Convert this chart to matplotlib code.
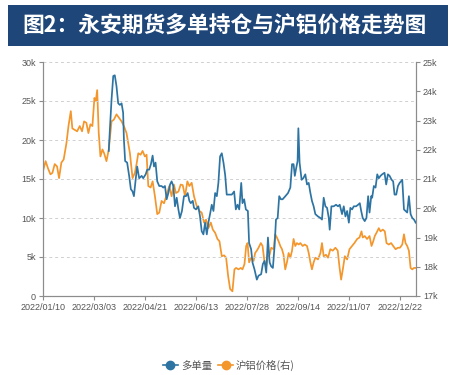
import matplotlib
matplotlib.use("Agg")
import matplotlib.pyplot as plt
from matplotlib.patches import Rectangle
from matplotlib.lines import Line2D

# trading-day position (0 = 2022/01/10) and values
blue_day = [42.6, 43.3, 44.4, 45.5, 46.5, 47.6, 48.7, 49.8, 50.9, 51.9, 52.4, 53.2, 54.5, 55.8,
            56.9, 58.0, 58.9, 60.0, 61.0, 62.3, 63.9, 64.9, 66.5, 67.5, 68.8, 69.9, 71.0, 71.9,
            72.9, 74.0, 75.3, 76.8, 77.9, 79.0, 80.1, 81.2, 82.3, 83.3, 84.4, 85.5, 86.6, 87.7,
            88.7, 90.0, 91.3, 92.6, 93.7, 94.8, 95.7, 97.0, 97.8, 99.1, 100.6, 101.7, 102.8,
            103.9, 105.0, 106.1, 107.1, 108.2, 109.3, 110.4, 111.5, 112.6, 113.6, 114.7, 115.8,
            116.9, 118.0, 119.0, 120.8, 122.3, 123.8, 124.9, 126.0, 127.1, 128.4, 129.2, 130.3,
            131.4, 132.7, 133.5, 134.8, 135.7, 137.0, 138.5, 139.6, 141.3, 142.4, 143.5, 144.6,
            145.7, 146.8, 147.8, 148.9, 150.0, 150.9, 152.0, 153.0, 154.1, 155.2, 157.0, 158.7,
            160.2, 161.3, 162.3, 163.1, 164.0, 164.9, 165.4, 166.2, 167.5, 168.6, 169.9, 171.0,
            172.1, 173.2, 174.2, 175.3, 176.4, 178.1, 179.7, 180.7, 181.8, 182.9, 184.0, 185.1,
            185.7, 186.8, 188.3, 189.8, 191.1, 192.2, 193.7, 194.8, 195.9, 197.0, 198.1, 199.1,
            200.2, 201.3, 202.8, 204.1, 205.2, 206.1, 207.1, 208.4, 209.5, 210.6, 211.5, 212.6,
            213.2, 214.3, 215.4, 216.5, 217.5, 218.6, 219.7, 221.2, 222.3, 223.4, 224.5, 225.8,
            226.8, 227.7, 228.8, 229.9, 231.0, 232.7, 233.8, 234.8, 235.9, 237.0, 238.1, 239.2,
            240.3, 241.4]
blue_val = [18600, 21300, 25200, 28200, 28300, 26900, 24700, 24500, 24700, 23500, 20100, 17300,
            17100, 15400, 13700, 13400, 12800, 14900, 16600, 15100, 15400, 15100, 15600, 16200,
            16200, 16900, 18000, 16600, 17100, 14700, 14100, 14100, 13900, 14100, 12400, 13200,
            14300, 14700, 14100, 11500, 12600, 11100, 10000, 10900, 12800, 12800, 13200, 12200,
            11900, 12200, 11300, 11100, 11500, 10200, 8300, 7900, 9400, 7900, 9400, 10500, 11700,
            10900, 13200, 12800, 14500, 17900, 18300, 17100, 15500, 13000, 13000, 13000, 13400,
            11100, 11700, 11100, 14500, 11900, 12400, 11100, 10900, 6800, 6000, 4300, 3400, 2100,
            2600, 2800, 4100, 4500, 3000, 7500, 4300, 3800, 3600, 6400, 9800, 10000, 12800, 12400,
            12400, 12800, 13200, 13900, 16900, 16900, 15400, 16400, 17300, 21500, 17100, 14900,
            15100, 15600, 14300, 14500, 13200, 12200, 11500, 10500, 10200, 10000, 9800, 12600,
            11500, 11300, 10000, 8500, 11500, 11500, 11700, 11500, 11700, 10500, 11500, 10200,
            10900, 9400, 11300, 11100, 11500, 11500, 11700, 11900, 10900, 10000, 9600, 10000,
            12800, 10700, 12800, 12600, 14100, 13900, 15600, 15100, 15400, 15600, 15800, 14300,
            15600, 15400, 14900, 14700, 13000, 13000, 14100, 14500, 14900, 11100, 10900, 10700,
            12800, 10500, 10000, 9800, 9400]

orange_day = [0.0, 1.7, 3.2, 4.8, 6.1, 7.6, 9.1, 10.4, 11.9, 13.4, 15.2, 16.5, 18.0, 19.0, 20.6,
              22.1, 23.8, 25.3, 26.6, 28.1, 29.4, 30.7, 32.0, 33.3, 34.2, 35.1, 36.1, 37.2, 38.5,
              39.6, 41.1, 42.6, 44.4, 45.9, 47.6, 49.4, 50.9, 52.4, 54.1, 56.3, 58.0, 59.5, 60.6,
              61.7, 63.2, 64.5, 66.0, 67.1, 68.2, 69.7, 71.0, 72.5, 74.0, 75.3, 76.8, 78.4, 80.1,
              81.8, 83.3, 84.8, 86.1, 87.7, 89.2, 90.5, 92.0, 93.5, 94.8, 96.3, 97.8, 99.6, 101.3,
              102.8, 104.3, 105.6, 107.1, 108.7, 110.0, 111.5, 113.0, 114.3, 115.8, 117.3, 118.6,
              119.9, 121.2, 122.7, 124.0, 125.1, 126.6, 128.1, 129.2, 130.5, 131.6, 132.5, 133.5,
              134.8, 136.4, 137.4, 138.5, 139.6, 141.1, 142.2, 143.5, 144.6, 145.7, 146.8, 147.8,
              149.4, 150.4, 151.5, 152.6, 153.7, 154.8, 155.8, 156.9, 158.0, 159.1, 160.2, 161.3,
              162.3, 163.4, 164.5, 165.6, 166.7, 168.2, 169.5, 171.0, 172.1, 173.2, 174.2, 175.3,
              176.4, 178.1, 179.7, 180.7, 181.8, 183.3, 184.6, 186.1, 187.7, 189.4, 190.9, 192.0,
              193.1, 194.2, 195.5, 197.0, 198.5, 200.2, 201.7, 203.5, 205.0, 206.3, 207.1, 208.4,
              209.9, 211.5, 212.8, 213.9, 214.9, 216.5, 217.5, 218.6, 220.1, 221.4, 222.5, 224.0,
              225.5, 226.8, 228.4, 229.9, 231.2, 232.7, 233.8, 234.8, 235.9, 237.0, 238.1, 239.2,
              240.3, 241.4]
orange_val = [21270, 21610, 21370, 21160, 21210, 21510, 21430, 21030, 21560, 21670, 22230, 22810,
              23320, 22730, 22680, 22630, 22810, 22630, 22970, 22920, 22570, 22870, 22810, 23770,
              23670, 24040, 22570, 21770, 22010, 21880, 21610, 22010, 22970, 23030, 23210, 23080,
              22970, 22810, 22570, 21880, 21030, 21210, 21510, 21880, 21830, 21960, 21770, 21830,
              20760, 20710, 20920, 20410, 19800, 19850, 20250, 20170, 20470, 20760, 20410, 20810,
              20520, 20570, 20810, 20790, 20410, 20920, 20760, 20870, 20410, 20070, 19910, 19850,
              19510, 19610, 19320, 19510, 19270, 19160, 18950, 18870, 18360, 18390, 18310, 17690,
              17240, 17160, 17910, 17960, 17910, 17960, 17910, 18090, 18710, 18810, 18150, 18310,
              18200, 18470, 18550, 18650, 18810, 18710, 18150, 18010, 18360, 18410, 18650, 18600,
              19110, 19000, 18870, 18710, 18600, 18410, 17910, 18150, 18470, 18310, 18550, 18950,
              18710, 18810, 18760, 18810, 18710, 18760, 18710, 18470, 18150, 17910, 18150, 18310,
              18250, 18470, 18810, 18360, 18410, 18310, 18600, 18550, 18650, 18550, 18010, 17560,
              17910, 18360, 18250, 18600, 18710, 18810, 18950, 19000, 19210, 19000, 19050, 18950,
              19050, 18710, 18870, 19050, 19210, 19320, 19210, 19270, 19210, 18810, 18760, 18810,
              18710, 18600, 18650, 18650, 18760, 19110, 18810, 18710, 18550, 17960, 17910, 17960,
              17960]

tick_day = [0, 33, 66, 99, 132, 165, 198, 231]
tick_labels = ["2022/01/10", "2022/03/03", "2022/04/21", "2022/06/13",
               "2022/07/28", "2022/09/14", "2022/11/07", "2022/12/22"]
left_ticks = [0, 5000, 10000, 15000, 20000, 25000, 30000]
left_labels = ["0", "5k", "10k", "15k", "20k", "25k", "30k"]
right_ticks = [17000, 18000, 19000, 20000, 21000, 22000, 23000, 24000, 25000]
right_labels = ["17k", "18k", "19k", "20k", "21k", "22k", "23k", "24k", "25k"]

title = "图2：永安期货多单持仓与沪铝价格走势图"
blue_name = "多单量"
orange_name = "沪铝价格(右)"

BLUE = "#2e74a3"
ORANGE = "#f3962c"
AXIS = "#8c8c8c"
TXT = "#555555"
CJK = ["Noto Sans CJK SC", "DejaVu Sans"]
NARROW = ["Liberation Sans Narrow", "Liberation Sans", "DejaVu Sans"]

fig = plt.figure(figsize=(4.55, 3.75), dpi=100)
fig.patches.append(Rectangle((8 / 455, 1 - 46 / 375), 440 / 455, 41 / 375,
                             transform=fig.transFigure, facecolor="#1f4679",
                             edgecolor="none", zorder=0))
fig.text(22 / 455, 1 - 26 / 375, title, color="white", fontsize=15.7, fontweight="bold",
         family=CJK, ha="left", va="center")

ax = fig.add_axes([43 / 455, 1 - 296 / 375, 373 / 455, 234 / 375])
ax2 = ax.twinx()

ax.plot(blue_day, blue_val, color=BLUE, lw=1.25, zorder=3)
ax2.plot(orange_day, orange_val, color=ORANGE, lw=1.25)
ax.set_zorder(ax2.get_zorder() + 1)
ax.patch.set_visible(False)

ax.set_xlim(0, 241.6)
ax.set_ylim(0, 30000)
ax2.set_ylim(17000, 25000)
ax.set_xticks(tick_day)
ax.set_xticklabels(tick_labels)
ax.set_yticks(left_ticks)
ax.set_yticklabels(left_labels)
ax2.set_yticks(right_ticks)
ax2.set_yticklabels(right_labels)

ax.yaxis.grid(True, ls=(0, (3, 3)), color="#d0d0d0", lw=0.7)
for a in (ax, ax2):
    a.spines["top"].set_visible(False)
    for s in ("left", "right", "bottom"):
        a.spines[s].set_color(AXIS)
        a.spines[s].set_linewidth(0.8)
    a.tick_params(colors=AXIS, labelcolor=TXT, length=3, width=0.8, labelsize=6.5, pad=2)
    for lab in a.get_xticklabels() + a.get_yticklabels():
        lab.set_family(NARROW)

handles = [Line2D([0], [0], color=BLUE, lw=1.2, marker="o", markersize=6),
           Line2D([0], [0], color=ORANGE, lw=1.2, marker="o", markersize=6)]
fig.legend(handles, [blue_name, orange_name], loc="center", ncol=2,
           bbox_to_anchor=(229 / 455, 1 - 365 / 375), frameon=False,
           prop={"family": CJK, "size": 7.5}, handlelength=1.4, columnspacing=0.6,
           handletextpad=0.3, labelcolor=TXT)

fig.savefig("out.png", dpi=100)
